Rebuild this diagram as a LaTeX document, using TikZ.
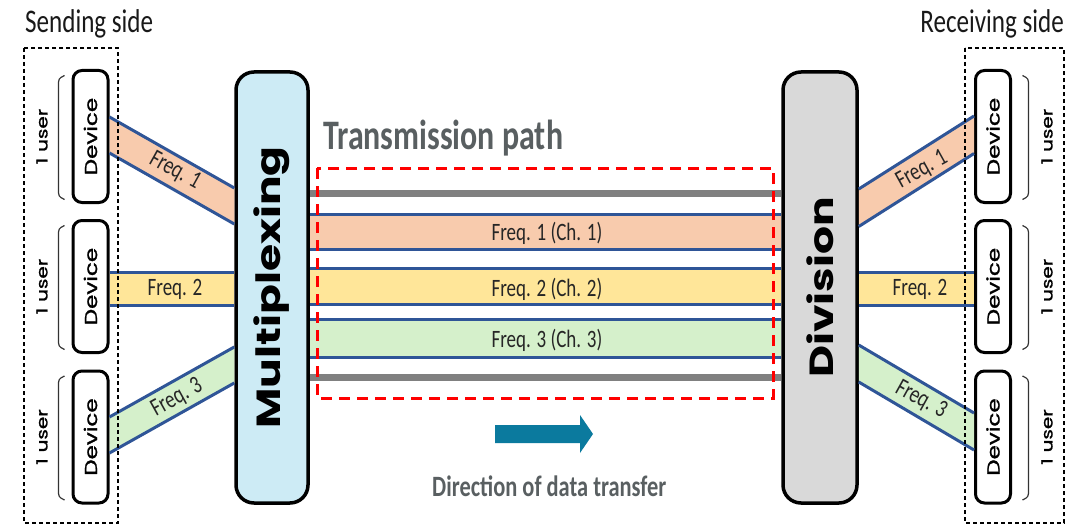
\documentclass[tikz,border=0pt]{standalone}
\usepackage{graphicx}
\usepackage{fontspec}
\setmainfont{Carlito}
\newfontfamily\geofont{Poppins}
\newfontfamily\geomed{Poppins}[FakeBold=1.2]
\usetikzlibrary{calc}

\definecolor{peach}{HTML}{F8CBAD}
\definecolor{sand}{HTML}{FFE699}
\definecolor{mint}{HTML}{D5F0CB}
\definecolor{bandblue}{HTML}{2F5597}
\definecolor{muxblue}{HTML}{CDEBF5}
\definecolor{divgray}{HTML}{D9D9D9}
\definecolor{titlegray}{HTML}{595F61}
\definecolor{arrowteal}{HTML}{0B7A9E}

% squeezed text, flat and turned
\newcommand{\sqz}[1]{\scalebox{0.76}[1]{#1}}
\newcommand{\sqzup}[1]{\rotatebox{90}{\scalebox{1}[0.76]{#1}}}

% one frequency band between two anchors
\newcommand{\freqband}[7]{%
  \fill[#1] ($(#2)+(0,#3)$) -- ($(#5)+(0,#6)$) -- ($(#5)+(0,#7)$) -- ($(#2)+(0,#4)$) -- cycle;
  \draw[bandline] ($(#2)+(0,#3)$) -- ($(#5)+(0,#6)$);
  \draw[bandline] ($(#2)+(0,#4)$) -- ($(#5)+(0,#7)$);}

\tikzset{
  device/.style={draw, line width=3pt, rounded corners=9pt, minimum width=35pt,
    minimum height=132pt, inner sep=0pt, fill=white,
    font=\geomed\fontsize{23}{26}\selectfont},
  bigbox/.style={draw, line width=3.5pt, rounded corners=18pt, minimum height=431pt,
    inner sep=0pt, font=\geofont\bfseries\fontsize{44}{48}\selectfont},
  bandline/.style={bandblue, line width=3pt},
  grayline/.style={black!50, line width=7pt},
  sidebox/.style={line width=1.5pt, dash pattern=on 4pt off 3pt},
  freqlabel/.style={inner sep=0pt, text=black!85, font=\fontsize{25}{28}\selectfont},
  userlabel/.style={inner sep=0pt, font=\geomed\fontsize{20}{22}\selectfont},
  sidetitle/.style={inner sep=0pt, text=black!90, font=\fontsize{33}{36}\selectfont}
}

\begin{document}
\begin{tikzpicture}[x=1pt, y=-1pt]
  \useasboundingbox (0,0) rectangle (1087,527);

  % boxes
  \node[bigbox, fill=muxblue, minimum width=72pt] (mux) at (272,287.5) {\sqzup{Multiplexing}};
  \node[bigbox, fill=divgray, minimum width=74pt] (div) at (820,287.5) {\sqzup{Division}};

  \node[device] (devL1) at (90.5,136.5) {\sqzup{Device}};
  \node[device] (devL2) at (90.5,286.5) {\sqzup{Device}};
  \node[device] (devL3) at (90.5,437) {\sqzup{Device}};
  \node[device] (devR1) at (993,136.5) {\sqzup{Device}};
  \node[device] (devR2) at (993,286.5) {\sqzup{Device}};
  \node[device] (devR3) at (993,437) {\sqzup{Device}};

  % bands
  \freqband{peach}{devL1.east}{-19.5}{16.5}{mux.west}{-99.5}{-63.5}
  \freqband{sand}{devL2.east}{-14.5}{18.5}{mux.west}{-15.5}{17.5}
  \freqband{mint}{devL3.east}{-20}{16}{mux.west}{59.5}{95.5}

  \freqband{peach}{div.east}{-98.5}{-61}{devR1.west}{-20.5}{17}
  \freqband{sand}{div.east}{-15.5}{17.5}{devR2.west}{-14.5}{18.5}
  \freqband{mint}{div.east}{57.5}{94.5}{devR3.west}{-24}{13}

  \draw[grayline] ($(mux.east)+(0,-94.5)$) -- ($(div.west)+(0,-94.5)$);
  \freqband{peach}{mux.east}{-73.5}{-38.5}{div.west}{-73.5}{-38.5}
  \freqband{sand}{mux.east}{-19.5}{16.5}{div.west}{-19.5}{16.5}
  \freqband{mint}{mux.east}{31.5}{69.5}{div.west}{31.5}{69.5}
  \draw[grayline] ($(mux.east)+(0,89.5)$) -- ($(div.west)+(0,89.5)$);

  % sides
  \draw[sidebox] (24,48) rectangle (118,523);
  \draw[sidebox] (965,48) rectangle (1064,523);
  \draw[red, line width=3pt, dash pattern=on 11pt off 7pt] (317,168) rectangle (773,398);

  \foreach \cy in {136.5,286.5,437} {
    \draw[line width=1.2pt, black!80] (64.5,\cy-61) .. controls (58.5,\cy-58) .. (58.5,\cy-50)
      -- (58.5,\cy+52) .. controls (58.5,\cy+60) .. (64.5,\cy+63);
    \draw[line width=1.2pt, black!80] (1022.5,\cy-61) .. controls (1028.5,\cy-58) .. (1028.5,\cy-50)
      -- (1028.5,\cy+52) .. controls (1028.5,\cy+60) .. (1022.5,\cy+63);
  }

  \node[userlabel] (userL1) at (42,136.5) {\sqzup{1\hspace{0.3em}user}};
  \node[userlabel] (userL2) at (42,286.5) {\sqzup{1\hspace{0.3em}user}};
  \node[userlabel] (userL3) at (42,437) {\sqzup{1\hspace{0.3em}user}};
  \node[userlabel] (userR1) at (1047,136.5) {\sqzup{1\hspace{0.3em}user}};
  \node[userlabel] (userR2) at (1047,286.5) {\sqzup{1\hspace{0.3em}user}};
  \node[userlabel] (userR3) at (1047,437) {\sqzup{1\hspace{0.3em}user}};

  % labels
  \node[freqlabel, rotate=-29] (fL1) at (175,171) {\sqz{Freq. 1}};
  \node[freqlabel] (fL2) at (175,289) {\sqz{Freq. 2}};
  \node[freqlabel, rotate=29] (fL3) at (177,398) {\sqz{Freq. 3}};
  \node[freqlabel, rotate=29] (fR1) at (922,170) {\sqz{Freq. 1}};
  \node[freqlabel] (fR2) at (920,289) {\sqz{Freq. 2}};
  \node[freqlabel, rotate=-29] (fR3) at (921,400) {\sqz{Freq. 3}};

  \node[freqlabel] (ch1) at (547,233) {\sqz{Freq. 1 (Ch. 1)}};
  \node[freqlabel] (ch2) at (547,289) {\sqz{Freq. 2 (Ch. 2)}};
  \node[freqlabel] (ch3) at (547,340) {\sqz{Freq. 3 (Ch. 3)}};

  \node[sidetitle, anchor=base west] (send) at (25,33) {\sqz{Sending side}};
  \node[sidetitle, anchor=base east] (recv) at (1064,33) {\sqz{Receiving side}};
  \node[inner sep=0pt, anchor=base west, text=titlegray, font=\bfseries\fontsize{42}{46}\selectfont]
    (path) at (323,149) {\sqz{Transmission path}};

  % direction
  \fill[arrowteal] (495,425) -- (580,425) -- (580,415) -- (593,434) -- (580,453)
    -- (580,443) -- (495,443) -- cycle;
  \node[inner sep=0pt, anchor=base west, text=titlegray, font=\bfseries\fontsize{29.5}{32}\selectfont]
    (dir) at (432,496) {\sqz{Direction of data transfer}};
\end{tikzpicture}
\end{document}
